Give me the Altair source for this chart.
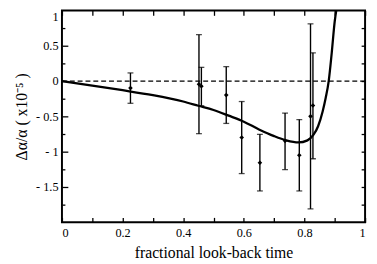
import altair as alt
import pandas as pd

# error-bar data points
px = [0.226, 0.452, 0.460, 0.542, 0.593, 0.653, 0.736, 0.783, 0.820, 0.828]
py = [-0.10, -0.046, -0.074, -0.199, -0.80, -1.157, -0.847, -1.05, -0.50, -0.347]
plo = [-0.315, -0.745, -0.35, -0.60, -1.31, -1.556, -1.254, -1.556, -1.81, -1.10]
phi = [0.115, 0.657, 0.194, 0.204, -0.29, -0.755, -0.454, -0.546, 0.81, 0.40]

# model curve
cx = [0.0, 0.1, 0.2, 0.3, 0.4, 0.45, 0.5, 0.55, 0.6, 0.65, 0.7, 0.74, 0.78,
      0.81, 0.83, 0.845, 0.86, 0.87, 0.88, 0.89, 0.9, 0.905]
cy = [0.0, -0.065, -0.13, -0.2, -0.29, -0.35, -0.41, -0.49, -0.575, -0.685,
      -0.78, -0.84, -0.87, -0.84, -0.76, -0.64, -0.43, -0.24, 0.0, 0.4, 0.85, 1.0]

zero = [0.0]

x_ticks_lab = [0, 0.2, 0.4, 0.6, 0.8, 1]
x_ticks_all = [0, 0.1, 0.2, 0.3, 0.4, 0.5, 0.6, 0.7, 0.8, 0.9, 1]
y_ticks_lab = [1, 0.5, 0, -0.5, -1, -1.5]
y_ticks_major = [-1.5, -1, -0.5, 0, 0.5]
y_ticks_minor = [-1.75, -1.25, -0.75, -0.25, 0.25, 0.75]
y_ticks_right = [-1.75, -1.5, -1.25, -1, -0.75, -0.5, -0.25, 0, 0.25, 0.5, 0.75]

pts = pd.DataFrame({"x": px, "y": py, "lo": plo, "hi": phi})
curve = pd.DataFrame({"x": cx, "y": cy})
zdf = pd.DataFrame({"y": zero})

FONT = "Liberation Serif"
xs = alt.Scale(domain=[0, 1], nice=False, zero=False)
ys = alt.Scale(domain=[-2, 1], nice=False, zero=False)


def tick_axis(orient, values, size):
    return alt.Axis(orient=orient, values=values, labels=False, domain=False,
                    grid=False, ticks=True, tickSize=size, offset=-size,
                    tickColor="black", tickWidth=1.3, title=None)


# main curve with labelled axes
line = alt.Chart(curve).mark_line(color="black", strokeWidth=2.3, clip=True,
                                  interpolate="monotone").encode(
    x=alt.X("x:Q", scale=xs, axis=alt.Axis(
        orient="bottom", values=x_ticks_lab, format="~g", ticks=False, domain=False,
        grid=False, labelFont=FONT, labelFontSize=12.5, labelColor="black",
        labelPadding=4, title="fractional look-back time", titleFont=FONT,
        titleFontSize=16, titleFontWeight="normal", titleColor="black",
        titlePadding=6)),
    y=alt.Y("y:Q", scale=ys, axis=alt.Axis(
        orient="left", values=y_ticks_lab, ticks=False, domain=False, grid=False,
        labelExpr="datum.value < 0 ? '- ' + format(-datum.value, '~g') : format(datum.value, '~g')",
        labelFlush=True, labelFlushOffset=0,
        labelFont=FONT, labelFontSize=12.5, labelColor="black", labelPadding=4,
        title="Δα/α  ( x10⁻⁵ )", titleFont=FONT, titleFontSize=16,
        titleFontWeight="normal", titleColor="black", titlePadding=6)),
)

dash = alt.Chart(zdf).mark_rule(color="black", strokeWidth=1.3,
                                strokeDash=[5, 3]).encode(
    y=alt.Y("y:Q", scale=ys, axis=tick_axis("left", y_ticks_major, 6)),
)

bars = alt.Chart(pts).mark_rule(color="black", strokeWidth=1.4).encode(
    x=alt.X("x:Q", scale=xs, axis=tick_axis("bottom", x_ticks_all, 5)),
    y=alt.Y("lo:Q", scale=ys, axis=tick_axis("right", y_ticks_right, 4)),
    y2="hi:Q",
)

cap_lo = alt.Chart(pts).mark_tick(color="black", thickness=1.3, size=6,
                                  orient="horizontal").encode(
    x=alt.X("x:Q", scale=xs, axis=tick_axis("top", x_ticks_all, 5)),
    y=alt.Y("lo:Q", scale=ys, axis=tick_axis("left", y_ticks_minor, 3)),
)

cap_hi = alt.Chart(pts).mark_tick(color="black", thickness=1.3, size=6,
                                  orient="horizontal").encode(
    x=alt.X("x:Q", scale=xs, axis=None),
    y=alt.Y("hi:Q", scale=ys, axis=None),
)

dots = alt.Chart(pts).mark_point(shape="diamond", filled=True, color="black",
                                 size=22, opacity=1).encode(
    x=alt.X("x:Q", scale=xs, axis=None),
    y=alt.Y("y:Q", scale=ys, axis=None),
)

chart = alt.layer(line, dash, bars, cap_lo, cap_hi, dots).resolve_axis(
    x="independent", y="independent"
).properties(
    width=309, height=216,
    autosize=alt.AutoSizeParams(type="none"),
    padding={"left": 55, "top": 0, "right": 4, "bottom": 38},
).configure(font=FONT).configure_axis(
    labelFont=FONT, titleFont=FONT
).configure_view(stroke="black", strokeWidth=2)

chart.save("out.html", embed_options={"renderer": "svg", "actions": False})
